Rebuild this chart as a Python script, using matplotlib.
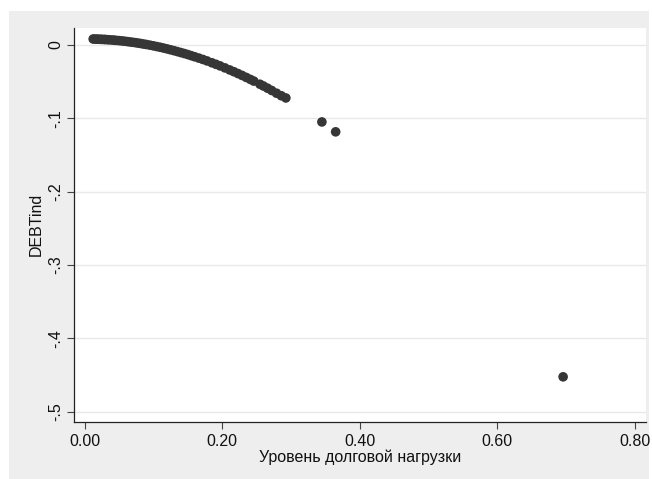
import matplotlib
matplotlib.use("Agg")
import matplotlib.pyplot as plt
from matplotlib.patches import Rectangle

plt.rcParams['font.family'] = ['Liberation Sans', 'DejaVu Sans']

# debt load vs DEBTind
debt = [0.0125, 0.015, 0.018, 0.020, 0.023, 0.025, 0.028, 0.030, 0.033, 0.036,
        0.040, 0.043, 0.046, 0.050, 0.054, 0.058, 0.062, 0.066, 0.070, 0.074,
        0.078, 0.082, 0.086, 0.090, 0.095, 0.100, 0.105, 0.110, 0.115, 0.120,
        0.125, 0.130, 0.135, 0.140, 0.145, 0.150, 0.155, 0.160, 0.166, 0.172,
        0.178, 0.185, 0.191, 0.197, 0.204, 0.211, 0.217, 0.223, 0.229, 0.235,
        0.241, 0.246, 0.255, 0.260, 0.266, 0.272, 0.279, 0.286, 0.2926,
        0.345, 0.365, 0.6957]
debtind = [0.0082, 0.0081, 0.0080, 0.0079, 0.0078, 0.0077, 0.0076, 0.0075, 0.0073, 0.0071,
           0.0068, 0.0066, 0.0063, 0.0060, 0.0056, 0.0052, 0.0047, 0.0042, 0.0037, 0.0032,
           0.0026, 0.0020, 0.0013, 0.0007, -0.0002, -0.0011, -0.0021, -0.0031, -0.0042, -0.0053,
           -0.0065, -0.0077, -0.0090, -0.0103, -0.0116, -0.0130, -0.0145, -0.0160, -0.0178, -0.0197,
           -0.0217, -0.0242, -0.0263, -0.0285, -0.0312, -0.0340, -0.0364, -0.0389, -0.0415, -0.0442,
           -0.0469, -0.0492, -0.0535, -0.0559, -0.0589, -0.0620, -0.0657, -0.0692, -0.0722,
           -0.1049, -0.1184, -0.4525]

xticks = [0.0, 0.2, 0.4, 0.6, 0.8]
xticklabels = ["0.00", "0.20", "0.40", "0.60", "0.80"]
yticks = [0, -0.1, -0.2, -0.3, -0.4, -0.5]
yticklabels = ["0", "-.1", "-.2", "-.3", "-.4", "-.5"]

W, H = 652, 479
fig = plt.figure(figsize=(W / 100, H / 100), dpi=100, facecolor="white")
# stata-like grey outer region, kept behind the axes
fig.patches.append(Rectangle((9 / W, 0), 640 / W, 468 / H, transform=fig.transFigure,
                             facecolor="#eeeeee", edgecolor="none", zorder=-5))

ax = fig.add_axes([74 / W, 1 - 421.7 / H, 572 / W, 393.7 / H])
ax.set_facecolor("white")
ax.scatter(debt, debtind, s=48, color="#363636", edgecolors="none", zorder=3)

ax.set_xlim(-0.0154, 0.8162)
ax.set_ylim(-0.5137, 0.0232)
ax.set_xticks(xticks)
ax.set_xticklabels(xticklabels)
ax.set_yticks(yticks)
ax.set_yticklabels(yticklabels, rotation=90, va="center")

ax.grid(axis="y", color="#e8e8e8", linewidth=1.0)
ax.set_axisbelow(True)
for side in ["top", "right"]:
    ax.spines[side].set_visible(False)
for side in ["left", "bottom"]:
    ax.spines[side].set_color("#222222")
    ax.spines[side].set_linewidth(0.9)

ax.tick_params(axis="both", direction="out", length=5, width=0.8, color="#444444",
               labelsize=11.5, labelcolor="#111111")
ax.tick_params(axis="x", pad=4)
ax.tick_params(axis="y", pad=3)

ax.set_xlabel("Уровень долговой нагрузки", fontsize=11.5, labelpad=0, color="#111111")
ax.set_ylabel("DEBTind", fontsize=11.5, labelpad=3, color="#111111")

fig.savefig("out.png", dpi=100, facecolor=fig.get_facecolor())
